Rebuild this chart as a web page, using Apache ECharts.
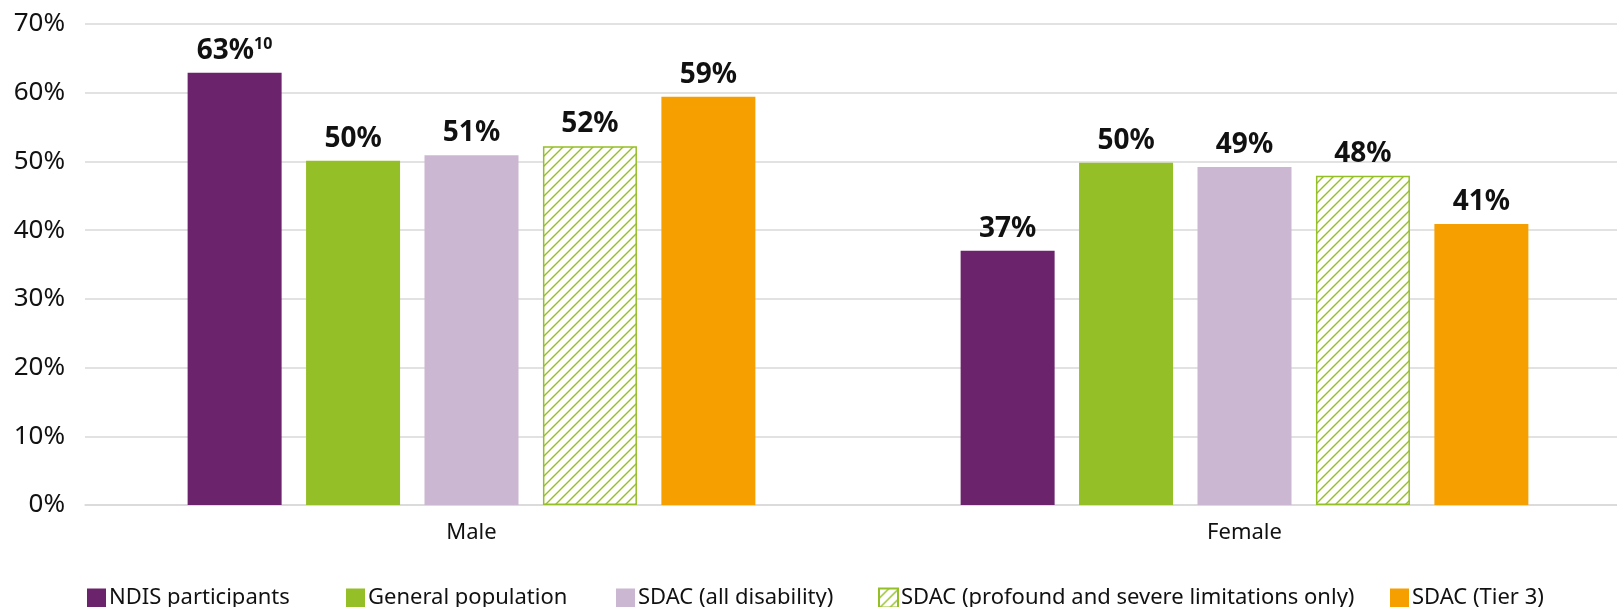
<!DOCTYPE html>
<html>
<head>
<meta charset="utf-8">
<script src="https://cdn.jsdelivr.net/npm/echarts@6/dist/echarts.min.js"></script>
<style>
  html, body { margin: 0; padding: 0; background: #fff; }
  #chart { width: 1617px; height: 607px; }
</style>
</head>
<body>
<div id="chart"></div>
<script>
const categories = ["Male", "Female"];
const seriesNames = [
  "NDIS participants",
  "General population",
  "SDAC (all disability)",
  "SDAC (profound and severe limitations only)",
  "SDAC (Tier 3)"
];
const ndis = [62.9, 37.0];
const generalPop = [50.1, 49.8];
const sdacAll = [50.9, 49.2];
const sdacProfound = [52.2, 47.9];
const sdacTier3 = [59.4, 40.9];
const yTicks = [0, 10, 20, 30, 40, 50, 60, 70];

const colors = ["#6b246b", "#95bf26", "#cbb7d1", "#95bf26", "#f5a000"];
const legendLefts = [82, 341, 611, 873, 1385];

// diagonal hatch pattern
const hatch = document.createElement("canvas");
hatch.width = 10;
hatch.height = 10;
let ctx = hatch.getContext("2d");
ctx.fillStyle = "#fff";
ctx.fillRect(0, 0, 10, 10);
ctx.strokeStyle = "#95bf26";
ctx.lineWidth = 1.4;
ctx.beginPath();
ctx.moveTo(-1, 11); ctx.lineTo(11, -1);
ctx.moveTo(-6, 6); ctx.lineTo(6, -6);
ctx.moveTo(4, 16); ctx.lineTo(16, 4);
ctx.stroke();

let font = "'Noto Sans', sans-serif";
let mychart = echarts.init(document.getElementById("chart"));

let allData = [ndis, generalPop, sdacAll, sdacProfound, sdacTier3];

let series = allData.map((d, i) => {
  let s = {
    name: seriesNames[i],
    type: "bar",
    data: d,
    barWidth: 94,
    barGap: "26%",
    itemStyle: { color: colors[i] },
    label: {
      show: true,
      position: "top",
      distance: 8,
      color: "#111",
      fontFamily: font,
      fontWeight: "bold",
      fontSize: 28,
      formatter: (p) => {
        let v = Math.round(p.value) + "%";
        if (i === 0 && p.dataIndex === 0) return "{m|" + v + "}{sup|10}";
        return v;
      },
      rich: {
        m: { fontFamily: font, fontWeight: "bold", fontSize: 28, color: "#111" },
        sup: { fontFamily: font, fontWeight: "bold", fontSize: 16, color: "#111", verticalAlign: "top", padding: [0, 0, 12, 0] }
      }
    }
  };
  if (i === 3) {
    s.itemStyle = {
      color: { image: hatch, repeat: "repeat" },
      borderColor: "#95bf26",
      borderWidth: 1.5
    };
  }
  return s;
});

let legends = seriesNames.map((n, i) => ({
  data: [n],
  left: legendLefts[i],
  top: 582,
  itemWidth: 19,
  itemHeight: 19,
  icon: "rect",
  itemGap: 0,
  textStyle: { fontFamily: font, fontSize: 22, color: "#111", padding: [0, 0, 0, -2] },
  selectedMode: false
}));

mychart.setOption({
  animation: false,
  legend: legends,
  grid: {
    left: 85,
    width: 1546,
    top: 24,
    bottom: 102,
    containLabel: false,
    outerBoundsMode: "none"
  },
  xAxis: {
    type: "category",
    data: categories,
    axisLine: { lineStyle: { color: "#d9d9d9", width: 1.5 } },
    axisTick: { show: false },
    axisLabel: { fontFamily: font, fontSize: 22, color: "#111", margin: 17 }
  },
  yAxis: {
    type: "value",
    min: yTicks[0],
    max: yTicks[yTicks.length - 1],
    interval: 10,
    axisLine: { show: false },
    axisTick: { show: false },
    splitLine: { lineStyle: { color: "#d9d9d9", width: 1.5 } },
    axisLabel: { fontFamily: font, fontSize: 26, color: "#111", margin: 20, formatter: "{value}%" }
  },
  series: series
});
</script>
</body>
</html>
